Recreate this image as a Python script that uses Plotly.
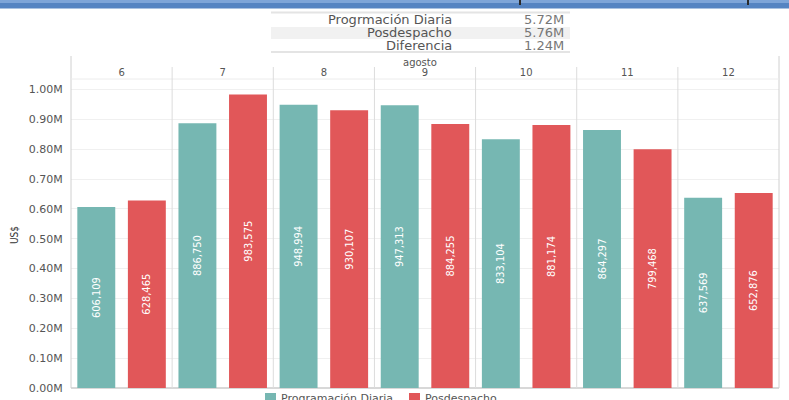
import plotly.graph_objects as go

# ---------------- data ----------------
days = ['6', '7', '8', '9', '10', '11', '12']
month_label = 'agosto'
series_names = ['Programación Diaria', 'Posdespacho']
prog_diaria = [606109, 886750, 948994, 947313, 833104, 864297, 637569]
posdespacho = [628465, 983575, 930107, 884255, 881174, 799468, 652876]
summary_labels = ['Progrmación Diaria', 'Posdespacho', 'Diferencia']
summary_values = ['5.72M', '5.76M', '1.24M']
y_tick_vals = [0, 100000, 200000, 300000, 400000, 500000, 600000, 700000, 800000, 900000, 1000000]
y_tick_text = ['0.00M', '0.10M', '0.20M', '0.30M', '0.40M', '0.50M', '0.60M', '0.70M', '0.80M', '0.90M', '1.00M']
y_title = 'US$'

# ---------------- style ----------------
TEAL = '#76b7b2'
RED = '#e15759'
COLORS = [TEAL, RED]
GREY_TXT = '#555555'
FONT = 'DejaVu Sans, Noto Sans, sans-serif'
COND = 'DejaVu Sans Condensed, Liberation Sans Narrow, Roboto Condensed, Arial Narrow, sans-serif'

W, H = 789, 400
L, R, T, B = 71, 779, 79, 388
PX_PER_UNIT = 298.5 / 1000000.0


def px(x):
    return (x - L) / (R - L)


def py(y):
    return (B - y) / (B - T)


fig = go.Figure()
for name, vals, col in zip(series_names, [prog_diaria, posdespacho], COLORS):
    fig.add_trace(go.Bar(
        x=days, y=vals, name=name,
        marker=dict(color=col, line=dict(width=0)),
        texttemplate='%{y:,.0f}', textposition='inside', insidetextanchor='middle',
        textangle=-90, textfont=dict(family=COND, size=11, color='white'),
        constraintext='none', showlegend=False,
    ))

shapes = []
# top banner
shapes.append(dict(type='rect', xref='paper', yref='paper', x0=px(0), x1=px(W), y0=py(0), y1=py(8.5),
                   fillcolor='#5584c2', line=dict(width=0), layer='above'))
shapes.append(dict(type='rect', xref='paper', yref='paper', x0=px(0), x1=px(W), y0=py(0), y1=py(3),
                   fillcolor='#7ea5d8', line=dict(width=0), layer='above'))
for bx in [520, 748]:
    shapes.append(dict(type='line', xref='paper', yref='paper', x0=px(bx), x1=px(bx), y0=py(0), y1=py(5),
                       line=dict(color='#2a2a2a', width=2)))
# summary table
shapes.append(dict(type='rect', xref='paper', yref='paper', x0=px(271), x1=px(570), y0=py(27), y1=py(39),
                   fillcolor='#f1f1f1', line=dict(width=0), layer='below'))
for ly in [12.5, 52]:
    shapes.append(dict(type='line', xref='paper', yref='paper', x0=px(271), x1=px(570), y0=py(ly), y1=py(ly),
                       line=dict(color='#e4e4e4', width=2)))
# outer frame lines
for bx in [L, R]:
    shapes.append(dict(type='line', xref='paper', yref='paper', x0=px(bx), x1=px(bx), y0=py(56), y1=py(B),
                       line=dict(color='#d0d0d0', width=1)))
# header bottom line / plot top
shapes.append(dict(type='line', xref='paper', yref='paper', x0=0, x1=1, y0=py(T), y1=py(T),
                   line=dict(color='#ececec', width=1)))
# day separators
for i in range(len(days) - 1):
    shapes.append(dict(type='line', xref='x', yref='paper', x0=i + 0.5, x1=i + 0.5, y0=py(67), y1=0,
                       line=dict(color='#dcdcdc', width=1)))

annotations = []
for i, (lab, val) in enumerate(zip(summary_labels, summary_values)):
    yy = 20 + 12.7 * i
    annotations.append(dict(xref='paper', yref='paper', x=px(454), y=py(yy), text=lab, showarrow=False,
                            xanchor='right', yanchor='middle', font=dict(family=FONT, size=13, color=GREY_TXT)))
    annotations.append(dict(xref='paper', yref='paper', x=px(566), y=py(yy), text=val, showarrow=False,
                            xanchor='right', yanchor='middle', font=dict(family=FONT, size=13, color='#777777')))
annotations.append(dict(xref='paper', yref='paper', x=px(420), y=py(62), text=month_label, showarrow=False,
                        xanchor='center', yanchor='middle', font=dict(family=FONT, size=10, color=GREY_TXT)))
annotations.append(dict(xref='paper', yref='paper', x=px(14), y=py(235), text=y_title, showarrow=False,
                        textangle=-90, xanchor='center', yanchor='middle',
                        font=dict(family=COND, size=10, color='#333333')))

# legend (drawn manually for exact placement)
legend_x = [265, 409]
for name, col, lx in zip(series_names, COLORS, legend_x):
    shapes.append(dict(type='rect', xref='paper', yref='paper', x0=px(lx), x1=px(lx + 11), y0=py(393),
                       y1=py(404), fillcolor=col, line=dict(width=0)))
    annotations.append(dict(xref='paper', yref='paper', x=px(lx + 14), y=py(398.5), text=name, showarrow=False,
                            xanchor='left', yanchor='middle', font=dict(family=FONT, size=11, color=GREY_TXT)))

fig.update_layout(
    width=W, height=H,
    margin=dict(l=L, r=W - R, t=T, b=H - B, autoexpand=False),
    paper_bgcolor='white', plot_bgcolor='white',
    barmode='group', bargap=0.0, bargroupgap=0.25,
    shapes=shapes, annotations=annotations,
    showlegend=False,
    xaxis=dict(type='category', side='top', showgrid=False, ticks='', showline=False, zeroline=False,
               range=[-0.5, len(days) - 0.5], tickfont=dict(family=FONT, size=10, color=GREY_TXT)),
    yaxis=dict(range=[0, (B - T) / PX_PER_UNIT], tickvals=y_tick_vals, ticktext=y_tick_text,
               showgrid=True, gridcolor='#f0f0f0', gridwidth=1, zeroline=True, zerolinecolor='#d8d8d8',
               showline=False, ticks='outside', ticklen=5, tickcolor='rgba(0,0,0,0)',
               tickfont=dict(family=FONT, size=11, color=GREY_TXT)),
)

fig.write_html('out.html', config={'displayModeBar': False},
               post_script="document.body.style.margin='0';document.body.style.overflow='hidden';")
